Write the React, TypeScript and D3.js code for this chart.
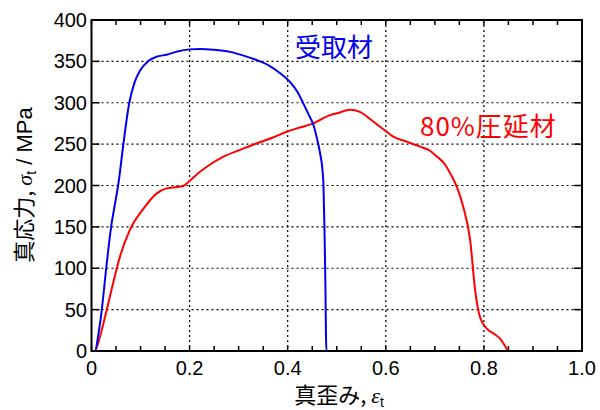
import React, { useEffect, useRef } from "react";
import * as d3 from "d3";

// strain, stress (MPa)
const asReceivedStrain = [0, 0.007, 0.014, 0.021, 0.03, 0.04, 0.048, 0.055, 0.065, 0.077, 0.088, 0.099, 0.115, 0.135, 0.153, 0.175, 0.2, 0.221, 0.25, 0.282, 0.31, 0.337, 0.362, 0.384, 0.405, 0.42, 0.432, 0.445, 0.452, 0.46, 0.466, 0.471, 0.473, 0.475, 0.477, 0.478, 0.479, 0.49, 0.501];
const asReceivedStress = [0, 0, 20, 50, 100, 150, 178, 203, 250, 300, 325, 339, 350, 356, 358, 362, 364.5, 365, 364, 361.5, 357, 351.5, 345, 336, 325, 313, 299, 283, 274, 256, 239, 218, 199, 146, 74, 20, 0, 0, 0];

const rolledStrain = [0, 0.007, 0.017, 0.031, 0.044, 0.058, 0.078, 0.106, 0.133, 0.153, 0.17, 0.185, 0.201, 0.22, 0.235, 0.269, 0.303, 0.337, 0.37, 0.398, 0.425, 0.452, 0.486, 0.505, 0.52, 0.527, 0.547, 0.56, 0.575, 0.595, 0.615, 0.643, 0.67, 0.69, 0.704, 0.72, 0.731, 0.745, 0.758, 0.772, 0.782, 0.792, 0.806, 0.82, 0.833, 0.846, 0.849];
const rolledStress = [0, 0, 17, 49.5, 82, 114, 146, 172, 190.5, 196.5, 198, 199, 206, 216, 222.7, 234.8, 243, 251, 258, 265, 270, 275, 285, 288, 291, 291.5, 289, 284, 277, 268, 259, 253, 247, 242, 235, 226, 215, 198, 174, 134, 74, 41, 27, 21, 15, 3, 0];

const xTicks = [0, 0.2, 0.4, 0.6, 0.8, 1.0];
const yTicks = [0, 50, 100, 150, 200, 250, 300, 350, 400];

const W = 600;
const H = 410;

export default function App() {
  const ref = useRef<SVGSVGElement>(null);

  useEffect(() => {
    const svg = d3.select(ref.current);
    svg.selectAll("*").remove();

    const left = 91.5, right = 582, top = 20, bottom = 351;
    const x = d3.scaleLinear().domain([0, 1]).range([left, right]);
    const y = d3.scaleLinear().domain([0, 400]).range([bottom, top]);
    const font = "'Liberation Sans', Arial, sans-serif";
    const jp = "'Noto Sans CJK JP', 'Liberation Sans', sans-serif";

    // grid
    const grid = svg.append("g").attr("stroke", "#000").attr("stroke-width", 1.2).attr("stroke-dasharray", "2,3");
    xTicks.slice(1, -1).forEach((t) => {
      grid.append("line").attr("x1", x(t)).attr("x2", x(t)).attr("y1", top).attr("y2", bottom);
    });
    yTicks.slice(1, -1).forEach((t) => {
      grid.append("line").attr("x1", left).attr("x2", right).attr("y1", y(t)).attr("y2", y(t));
    });

    // ticks inside the frame
    const ticks = svg.append("g").attr("stroke", "#000").attr("stroke-width", 1.5);
    d3.range(0, 1.0001, 0.05).forEach((t) => {
      const len = 5;
      ticks.append("line").attr("x1", x(t)).attr("x2", x(t)).attr("y1", bottom).attr("y2", bottom - len);
      ticks.append("line").attr("x1", x(t)).attr("x2", x(t)).attr("y1", top).attr("y2", top + len);
    });
    yTicks.forEach((t) => {
      ticks.append("line").attr("x1", left).attr("x2", left + 8).attr("y1", y(t)).attr("y2", y(t));
      ticks.append("line").attr("x1", right).attr("x2", right - 8).attr("y1", y(t)).attr("y2", y(t));
    });

    // curves
    const line = d3.line<[number, number]>().x((d) => x(d[0])).y((d) => y(d[1])).curve(d3.curveMonotoneX);
    svg.append("path")
      .datum(rolledStrain.map((s, i) => [s, rolledStress[i]] as [number, number]))
      .attr("d", line)
      .attr("fill", "none").attr("stroke", "#ff0000").attr("stroke-width", 2);
    svg.append("path")
      .datum(asReceivedStrain.map((s, i) => [s, asReceivedStress[i]] as [number, number]))
      .attr("d", line)
      .attr("fill", "none").attr("stroke", "#0000ee").attr("stroke-width", 2);

    // frame
    svg.append("rect").attr("x", left).attr("y", top).attr("width", right - left).attr("height", bottom - top)
      .attr("fill", "none").attr("stroke", "#000").attr("stroke-width", 2);

    // tick labels
    xTicks.forEach((t) => {
      svg.append("text").attr("x", x(t)).attr("y", 375).attr("text-anchor", "middle")
        .attr("font-family", font).attr("font-size", 20).text(t === 0 ? "0" : t.toFixed(1));
    });
    yTicks.forEach((t) => {
      svg.append("text").attr("x", 87).attr("y", y(t) + 7).attr("text-anchor", "end")
        .attr("font-family", font).attr("font-size", 20).text(String(t));
    });

    // axis titles
    const xt = svg.append("text").attr("x", 339).attr("y", 403).attr("text-anchor", "middle")
      .attr("font-family", jp).attr("font-size", 22);
    xt.append("tspan").text("真歪み, ");
    xt.append("tspan").attr("font-family", "'Liberation Serif', serif").attr("font-style", "italic").text("ε");
    xt.append("tspan").attr("font-size", 14).attr("dy", 4).attr("font-family", font).text("t");

    const yt = svg.append("text").attr("transform", "translate(32,185) rotate(-90)").attr("text-anchor", "middle")
      .attr("font-family", jp).attr("font-size", 22);
    yt.append("tspan").text("真応力, ");
    yt.append("tspan").attr("font-family", "'Liberation Serif', serif").attr("font-style", "italic").text("σ");
    yt.append("tspan").attr("font-size", 14).attr("dy", 4).attr("font-family", font).text("t");
    yt.append("tspan").attr("dy", -4).attr("font-family", font).text(" / MPa");

    // series labels
    svg.append("text").attr("x", 295).attr("y", 57).attr("font-family", jp).attr("font-size", 26)
      .attr("fill", "#0000ee").text("受取材");
    svg.append("text").attr("x", 420).attr("y", 136).attr("font-family", jp).attr("font-size", 26)
      .attr("letter-spacing", 1).attr("fill", "#ff0000").text("80%圧延材");
  }, []);

  return (
    <svg ref={ref} width={W} height={H} style={{ position: "absolute", left: 0, top: 0, background: "#fff" }} />
  );
}
